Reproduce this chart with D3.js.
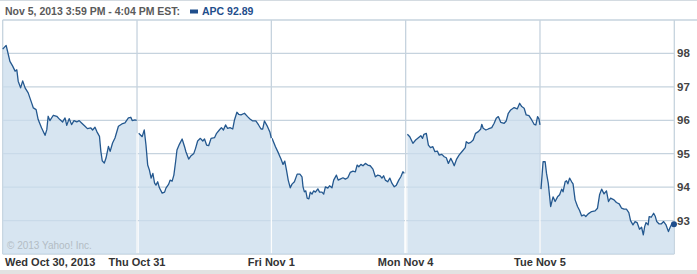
<!DOCTYPE html>
<html>
<head>
<meta charset="utf-8">
<script src="https://cdn.jsdelivr.net/npm/d3@7"></script>
<style>
  body { margin: 0; background: #fff; }
  svg { display: block; font-family: "Liberation Sans", Arial, sans-serif; }
</style>
</head>
<body>
<div id="container"></div>
<script>
/* DATA: minutes after 9:30 open, price */
const dayLabels = ["Wed Oct 30, 2013", "Thu Oct 31", "Fri Nov 1", "Mon Nov 4", "Tue Nov 5"];
const yTicks = [93, 94, 95, 96, 97, 98];
const headerText = "Nov 5, 2013 3:59 PM - 4:04 PM EST:";
const symbol = "APC";

const day1 = [[0,98.13],[10,98.24],[13,98.11],[21,97.76],[29,97.62],[36,97.47],[41,97.51],[45,97.17],[52,96.97],[58,97.18],
  [65,96.97],[74,96.82],[84,96.52],[89,96.37],[97,96.32],[103,96.02],[113,95.77],[123,95.55],[128,95.72],[132,96.12],
  [137,95.99],[147,96.15],[157,96.12],[166,96.02],[174,95.95],[181,96.07],[186,95.85],[193,96.05],[200,95.87],[207,95.99],
  [215,95.95],[222,95.99],[229,95.92],[239,95.82],[246,95.75],[256,95.77],[261,95.71],[268,95.79],[273,95.67],[281,95.52],
  [285,95.07],[289,94.79],[295,94.72],[300,94.87],[307,95.22],[312,95.07],[319,95.32],[326,95.47],[336,95.82],[346,95.89],
  [355,95.92],[365,96.07],[372,96.09],[376,95.99],[384,96.01],[389,96.00]];

const day2 = [[5,95.61],[15,95.51],[21,95.71],[26,95.26],[31,94.66],[36,94.51],[41,94.27],[46,94.41],[51,94.12],[55,94.06],
  [60,94.16],[65,93.98],[73,93.82],[80,93.85],[84,93.97],[92,94.09],[96,94.21],[102,94.18],[107,94.36],[112,94.76],
  [116,95.11],[123,95.28],[131,95.44],[138,95.21],[142,95.06],[150,94.84],[157,94.94],[165,95.01],[170,95.16],[176,95.38],
  [184,95.46],[191,95.38],[196,95.44],[202,95.26],[208,95.24],[215,95.46],[225,95.48],[231,95.61],[239,95.71],[245,95.78],
  [251,95.71],[257,95.86],[263,95.76],[270,95.78],[278,95.74],[283,96.01],[290,96.24],[295,96.18],[302,96.16],[312,96.21],
  [321,96.11],[328,96.04],[336,95.98],[345,95.98],[353,95.86],[360,95.74],[365,95.74],[370,95.98],[379,95.81],[386,95.64],
  [390,95.46]];

const day3 = [[2,95.46],[12,95.21],[21,95.01],[28,94.84],[34,94.68],[39,94.78],[44,94.51],[49,94.21],[55,93.98],[60,94.09],
  [67,94.16],[75,94.39],[83,94.39],[89,94.31],[92,94.01],[96,93.86],[100,93.89],[104,93.67],[109,93.65],[113,93.85],
  [118,93.79],[123,93.89],[128,93.85],[135,93.95],[140,93.85],[147,93.85],[152,93.79],[157,94.01],[164,93.97],[169,94.04],
  [176,93.98],[181,94.21],[189,94.36],[194,94.21],[200,94.24],[208,94.28],[215,94.24],[222,94.28],[229,94.44],[237,94.48],
  [244,94.46],[249,94.66],[254,94.61],[260,94.68],[266,94.64],[273,94.71],[280,94.66],[287,94.64],[295,94.54],[302,94.31],
  [309,94.36],[316,94.34],[321,94.27],[326,94.34],[331,94.21],[338,94.16],[344,94.27],[350,94.12],[357,94.01],[363,94.06],
  [370,94.21],[376,94.31],[382,94.46],[386,94.41]];

const day4 = [[5,95.58],[12,95.51],[21,95.31],[29,95.41],[37,95.48],[44,95.54],[49,95.46],[53,95.58],[60,95.61],[66,95.26],
  [72,95.18],[79,95.21],[85,95.06],[92,95.08],[97,94.96],[105,94.98],[112,94.91],[118,94.88],[124,94.71],[131,94.86],
  [136,94.76],[141,94.64],[148,94.84],[155,94.96],[165,95.08],[173,95.18],[176,95.36],[182,95.31],[189,95.34],[196,95.41],
  [203,95.61],[211,95.66],[218,95.74],[221,95.88],[225,95.76],[233,95.71],[240,95.74],[250,95.78],[257,95.91],[263,96.06],
  [269,96.11],[276,95.94],[286,95.91],[292,95.98],[298,96.21],[305,96.31],[315,96.38],[324,96.34],[331,96.51],[337,96.41],
  [344,96.36],[350,96.16],[358,96.14],[366,96.01],[373,95.88],[378,95.86],[383,96.11],[387,96.04],[390,95.86]];

const day5 = [[3,93.94],[9,94.76],[15,94.76],[19,94.41],[24,94.12],[31,93.42],[38,93.71],[44,93.57],[51,93.71],[57,93.77],
  [63,93.94],[67,93.86],[73,94.16],[77,94.19],[81,94.10],[86,94.27],[92,94.16],[96,94.10],[102,93.62],[109,93.42],
  [115,93.30],[121,93.14],[128,93.17],[133,93.12],[140,93.20],[150,93.27],[160,93.29],[167,93.37],[173,93.77],[179,93.94],
  [186,93.80],[193,93.89],[199,93.57],[205,93.67],[215,93.62],[222,93.54],[230,93.50],[237,93.37],[244,93.34],[251,93.34],
  [258,93.24],[263,93.00],[270,92.87],[276,92.97],[282,92.94],[289,92.74],[295,92.80],[300,92.57],[304,92.82],[308,92.94],
  [314,92.87],[317,93.12],[323,93.10],[330,93.22],[335,93.12],[339,92.97],[346,92.90],[352,92.90],[359,92.97],[366,92.87],
  [373,92.67],[378,92.80],[383,92.90],[389,92.89]];

const days = [day1, day2, day3, day4, day5];
const sessionMinutes = 390;

/* LAYOUT */
const width = 697, height = 274;
const plot = {left: 2.7, right: 674.3, top: 20, bottom: 254};

const xScale = d3.scaleLinear()
  .domain([0, days.length * sessionMinutes])
  .range([plot.left, plot.right]);
const yScale = d3.scaleLinear()
  .domain([92, 99])
  .range([plot.bottom, plot.top]);

const px = (di, m) => xScale(di * sessionMinutes + m);

const svg = d3.select("#container").append("svg")
  .attr("width", width).attr("height", height);

// header
svg.append("line").attr("x1", 0).attr("x2", width).attr("y1", 0.5).attr("y2", 0.5)
  .attr("stroke", "#d4dbe1");
svg.append("text").attr("x", 5).attr("y", 15)
  .attr("font-size", "10.5px").attr("font-weight", "bold").attr("fill", "#5a5a5a")
  .text(headerText);
const lastPrice = day5[day5.length - 1][1];
svg.append("rect").attr("x", 190).attr("y", 9.5).attr("width", 8).attr("height", 4)
  .attr("fill", "#1f4e8c");
svg.append("text").attr("x", 202).attr("y", 15)
  .attr("font-size", "10.5px").attr("font-weight", "bold").attr("fill", "#1f4e8c")
  .text(`${symbol} ${lastPrice.toFixed(2)}`);

// bottom band
svg.append("rect").attr("x", 0).attr("y", 270).attr("width", width).attr("height", 4)
  .attr("fill", "#e2e2e2");

// grid
const gridColor = "#c6d3de";
svg.append("g").selectAll("line").data(yTicks).join("line")
  .attr("x1", plot.left).attr("x2", plot.right)
  .attr("y1", d => yScale(d)).attr("y2", d => yScale(d))
  .attr("stroke", gridColor).attr("stroke-width", 1.3);
svg.append("g").selectAll("line").data(d3.range(days.length + 1)).join("line")
  .attr("x1", d => px(d, 0)).attr("x2", d => px(d, 0))
  .attr("y1", plot.top).attr("y2", plot.bottom)
  .attr("stroke", gridColor).attr("stroke-width", 1.3);
svg.append("line").attr("x1", plot.left).attr("x2", width)
  .attr("y1", plot.top).attr("y2", plot.top).attr("stroke", gridColor).attr("stroke-width", 1.3);
svg.append("line").attr("x1", plot.left).attr("x2", plot.right)
  .attr("y1", plot.bottom).attr("y2", plot.bottom).attr("stroke", gridColor).attr("stroke-width", 1.3);

// areas + lines
days.forEach((data, di) => {
  const area = d3.area()
    .x(d => px(di, d[0]))
    .y0(plot.bottom)
    .y1(d => yScale(d[1]));
  const line = d3.line()
    .x(d => px(di, d[0]))
    .y(d => yScale(d[1]));
  svg.append("path").datum(data)
    .attr("d", area)
    .attr("fill", "#c9dcec").attr("fill-opacity", 0.75);
  svg.append("path").datum(data)
    .attr("d", line)
    .attr("fill", "none").attr("stroke", "#24588f").attr("stroke-width", 1.3)
    .attr("stroke-linejoin", "round");
});

// white separators inside the fill
svg.append("g").selectAll("line").data(d3.range(1, days.length)).join("line")
  .attr("x1", d => px(d, 0)).attr("x2", d => px(d, 0))
  .attr("y1", d => Math.max(yScale(days[d - 1][days[d - 1].length - 1][1]), yScale(days[d][0][1])))
  .attr("y2", plot.bottom - 0.7)
  .attr("stroke", "#ffffff").attr("stroke-width", 1.2);

// end marker
svg.append("circle")
  .attr("cx", px(4, day5[day5.length - 1][0]))
  .attr("cy", yScale(lastPrice))
  .attr("r", 3).attr("fill", "#1f4e8c");

// copyright
svg.append("text").attr("x", 7).attr("y", 249)
  .attr("font-size", "10px").attr("fill", "#b3bcc4")
  .text("\u00a9 2013 Yahoo! Inc.");

// right axis labels
svg.append("g").selectAll("text").data(yTicks).join("text")
  .attr("x", 677).attr("y", d => yScale(d) + 4)
  .attr("font-size", "11.5px").attr("font-weight", "bold").attr("fill", "#444")
  .text(d => d);

// day labels
svg.append("g").selectAll("text").data(dayLabels).join("text")
  .attr("x", (d, i) => i === 0 ? 5 : px(i, 0))
  .attr("y", 266)
  .attr("text-anchor", (d, i) => i === 0 ? "start" : "middle")
  .attr("font-size", "11px").attr("font-weight", "bold").attr("fill", "#333")
  .text(d => d);
</script>
</body>
</html>
